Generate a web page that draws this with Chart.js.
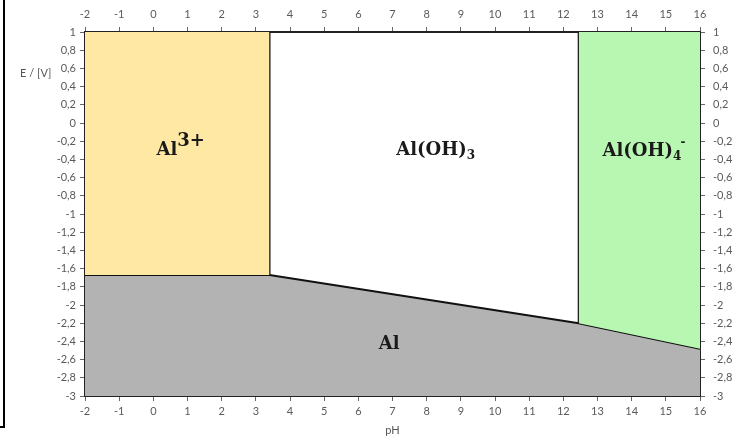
<!DOCTYPE html>
<html>
<head>
<meta charset="utf-8">
<script src="https://cdn.jsdelivr.net/npm/chart.js@4.4.1/dist/chart.umd.min.js"></script>
<style>
html,body{margin:0;padding:0;background:#fff;}
#wrap{position:relative;width:738px;height:436px;}
</style>
</head>
<body>
<div id="wrap"><canvas id="c" width="738" height="436"></canvas></div>
<script>
// ---- data ----
const xTicks = [-2,-1,0,1,2,3,4,5,6,7,8,9,10,11,12,13,14,15,16];
const yTicks = [-3,-2.8,-2.6,-2.4,-2.2,-2,-1.8,-1.6,-1.4,-1.2,-1,-0.8,-0.6,-0.4,-0.2,0,0.2,0.4,0.6,0.8,1];
const pHMin = -2, pHMax = 16, eMin = -3, eMax = 1;
// Al / oxidised-species boundary
const alBoundaryPH = [-2, 3.4, 12.45, 16];
const alBoundaryE  = [-1.67, -1.67, -2.20, -2.48];
// vertical boundaries
const al3BoundaryPH = 3.4;         // Al3+ | Al(OH)3
const aluminateBoundaryPH = 12.45; // Al(OH)3 | Al(OH)4-
// region label positions (pH, E)
const regionNames = ['Al3+', 'Al(OH)3', 'Al(OH)4-', 'Al'];
const regionPH = [0.8, 8.25, 14.36, 6.9];
const regionE  = [-0.27, -0.27, -0.29, -2.41];

const pts = (xs, ys) => xs.map((x, i) => ({x, y: ys[i]}));
const fmt = v => String(Math.round(v * 10) / 10).replace('.', ',');

const yellowPH = [pHMin, al3BoundaryPH];
const greenPH = [aluminateBoundaryPH, pHMax];

const datasets = [
  { // Al3+ region top
    data: pts(yellowPH, [eMax, eMax]),
    borderWidth: 0, pointRadius: 0, showLine: true,
    backgroundColor: '#FFE8A3',
    fill: {value: alBoundaryE[0]}
  },
  { // Al(OH)4- lower edge (hidden line)
    data: pts(greenPH, [alBoundaryE[2], alBoundaryE[3]]),
    borderWidth: 0, pointRadius: 0, showLine: true, fill: false
  },
  { // Al(OH)4- region top, fill to previous
    data: pts(greenPH, [eMax, eMax]),
    borderWidth: 0, pointRadius: 0, showLine: true,
    backgroundColor: '#B8F7B1',
    fill: '-1'
  },
  { // Al region
    data: pts(alBoundaryPH, alBoundaryE),
    borderColor: '#111', borderWidth: 2, pointRadius: 0, showLine: true,
    backgroundColor: '#B3B3B3',
    fill: 'start', tension: 0
  },
  { // vertical boundary Al3+/Al(OH)3
    data: pts([al3BoundaryPH, al3BoundaryPH], [eMax, alBoundaryE[1]]),
    borderColor: '#111', borderWidth: 2, pointRadius: 0, showLine: true, fill: false
  },
  { // vertical boundary Al(OH)3/Al(OH)4-
    data: pts([aluminateBoundaryPH, aluminateBoundaryPH], [eMax, alBoundaryE[2]]),
    borderColor: '#111', borderWidth: 2, pointRadius: 0, showLine: true, fill: false
  }
];

const tickFont = {family: 'Lato, "Open Sans", sans-serif', size: 11};
const tickColor = '#5a5a5a';
function xScale(pos, h, pad) {
  return {
    type: 'linear', position: pos, min: pHMin, max: pHMax,
    afterBuildTicks: s => { s.ticks = xTicks.map(v => ({value: v})); },
    afterFit: s => { s.height = h; },
    ticks: {color: tickColor, font: tickFont, padding: pad, maxRotation: 0, autoSkip: false, callback: v => fmt(v)},
    grid: {drawOnChartArea: false, drawTicks: true, tickLength: 5, color: '#666', lineWidth: 1},
    border: {display: true, color: '#222', width: 2}
  };
}
function yScale(pos, w, pad) {
  return {
    type: 'linear', position: pos, min: eMin, max: eMax,
    afterBuildTicks: s => { s.ticks = yTicks.map(v => ({value: v})); },
    afterFit: s => { s.width = w; },
    ticks: {color: tickColor, font: tickFont, padding: pad, autoSkip: false, callback: v => fmt(v)},
    grid: {drawOnChartArea: false, drawTicks: true, tickLength: 5, color: '#666', lineWidth: 1},
    border: {display: true, color: '#222', width: 2}
  };
}

const serif = '"DejaVu Serif", "Liberation Serif", serif';
const labelParts = {
  'Al3+': [['Al', 'n'], ['3+', 'sup']],
  'Al(OH)3': [['Al(OH)', 'n'], ['3', 'sub']],
  'Al(OH)4-': [['Al(OH)', 'n'], ['4', 'sub'], ['-', 'supsmall']],
  'Al': [['Al', 'n']]
};
function partFont(k) {
  if (k === 'n') return 'bold 18px ' + serif;
  if (k === 'sup') return 'bold 18px ' + serif;
  return 'bold 12px ' + serif;
}
function partDy(k) {
  if (k === 'sup') return -9;
  if (k === 'sub') return 4;
  if (k === 'supsmall') return -10;
  return 0;
}
function partAdv(k, mw) {
  if (k === 'sub') return mw - 1;
  return mw;
}

const decor = {
  id: 'decor',
  afterDraw(chart) {
    const ctx = chart.ctx, xs = chart.scales.x, ys = chart.scales.y;
    ctx.save();
    // frame on left edge
    ctx.strokeStyle = '#000'; ctx.lineWidth = 2;
    ctx.beginPath(); ctx.moveTo(4, 0); ctx.lineTo(4, 427); ctx.lineTo(0, 427); ctx.stroke();
    // axis titles
    ctx.fillStyle = '#555';
    ctx.font = '11px Lato, "Open Sans", sans-serif';
    ctx.textAlign = 'left'; ctx.textBaseline = 'middle';
    ctx.fillText('E / [V]', 20, 73);
    ctx.textAlign = 'center';
    ctx.fillText('pH', (chart.chartArea.left + chart.chartArea.right) / 2, 430);
    // region labels
    ctx.fillStyle = '#1a1a1a';
    ctx.textAlign = 'left'; ctx.textBaseline = 'alphabetic';
    regionNames.forEach((name, i) => {
      const parts = labelParts[name];
      let w = 0;
      parts.forEach(([t, k]) => { ctx.font = partFont(k); w += partAdv(k, ctx.measureText(t).width); });
      let x = xs.getPixelForValue(regionPH[i]) - w / 2;
      const base = ys.getPixelForValue(regionE[i]) + 7;
      parts.forEach(([t, k]) => {
        ctx.font = partFont(k);
        ctx.fillText(t, x, base + partDy(k));
        x += partAdv(k, ctx.measureText(t).width);
      });
    });
    ctx.restore();
  }
};

new Chart(document.getElementById('c'), {
  type: 'scatter',
  data: {datasets},
  options: {
    responsive: false, animation: false,
    layout: {padding: 0},
    plugins: {legend: {display: false}, tooltip: {enabled: false}, filler: {propagate: false}},
    scales: {
      x: xScale('bottom', 40, 4),
      x2: xScale('top', 32, 6),
      y: yScale('left', 85, 4),
      y2: yScale('right', 38, 8)
    }
  },
  plugins: [decor]
});
</script>
</body>
</html>
